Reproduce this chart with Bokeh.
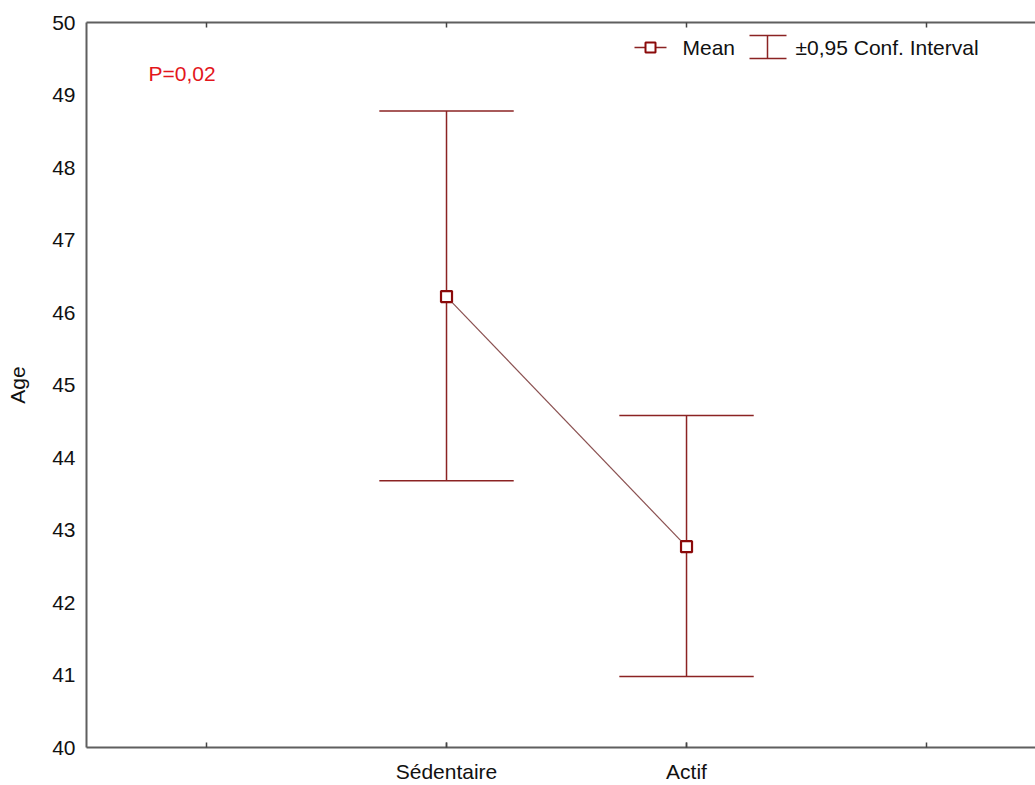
from bokeh.plotting import figure
from bokeh.models import (Range1d, FixedTicker, LinearAxis, Label, Arrow,
                          BoxAnnotation, ColumnDataSource)
from bokeh.embed import file_html
from bokeh.resources import INLINE

# ---- data ----
categories = ["Sédentaire", "Actif"]
means = [46.22, 42.77]
ci_lower = [43.68, 40.98]
ci_upper = [48.78, 44.58]
x_tick_positions = [0, 1, 2, 3]
y_ticks = [40, 41, 42, 43, 44, 45, 46, 47, 48, 49, 50]
p_value_text = "P=0,02"

xs = [i + 1 for i in range(len(categories))]
cap_half = 0.28
src = ColumnDataSource(dict(
    x=xs, mean=means, lo=ci_lower, hi=ci_upper,
    cx0=[x - cap_half for x in xs], cx1=[x + cap_half for x in xs],
))

FONT = "Liberation Sans"
AX = "#5f5f5f"
RED = "#8b2323"

p = figure(width=1035, height=785, output_backend="svg", toolbar_location=None,
           x_range=Range1d(-0.5, 3.454), y_range=Range1d(40, 50),
           min_border_left=86, min_border_right=0, min_border_top=22,
           min_border_bottom=38, x_axis_location="below")
p.outline_line_color = None
p.xgrid.visible = False
p.ygrid.visible = False
p.background_fill_color = "white"
p.border_fill_color = "white"

# axes
xa = p.xaxis[0]
xa.ticker = FixedTicker(ticks=xs, minor_ticks=x_tick_positions)
xa.major_label_overrides = {x: c for x, c in zip(xs, categories)}
xa.major_tick_in = 5
xa.major_tick_out = 0
xa.minor_tick_in = 5
xa.minor_tick_out = 0
xa.major_label_standoff = 12
ya = p.yaxis[0]
ya.ticker = FixedTicker(ticks=y_ticks)
ya.major_tick_in = 0
ya.major_tick_out = 0
ya.minor_tick_in = 0
ya.minor_tick_out = 0
ya.major_label_standoff = 11
ya.axis_label = "Age"
ya.axis_label_standoff = 20
for ax in (xa, ya):
    ax.axis_line_color = AX
    ax.axis_line_width = 2
    ax.major_tick_line_color = "#444444"
    ax.major_tick_line_width = 1.5
    ax.minor_tick_line_color = "#444444"
    ax.minor_tick_line_width = 1.5
    ax.major_label_text_font = FONT
    ax.major_label_text_font_size = "21px"
    ax.major_label_text_color = "#111111"
    ax.axis_label_text_font = FONT
    ax.axis_label_text_font_size = "21px"
    ax.axis_label_text_font_style = "normal"
    ax.axis_label_text_color = "#111111"

top = LinearAxis(ticker=FixedTicker(ticks=[], minor_ticks=x_tick_positions),
                 major_tick_in=0, major_tick_out=0,
                 minor_tick_in=5, minor_tick_out=0,
                 axis_line_color=AX, axis_line_width=2,
                 minor_tick_line_color="#444444", minor_tick_line_width=1.5,
                 major_label_standoff=0)
p.add_layout(top, "above")

# CI bars
p.segment(x0="x", y0="lo", x1="x", y1="hi", source=src, line_color=RED, line_width=1.5)
p.segment(x0="cx0", y0="hi", x1="cx1", y1="hi", source=src, line_color=RED, line_width=1.5)
p.segment(x0="cx0", y0="lo", x1="cx1", y1="lo", source=src, line_color=RED, line_width=1.5)
# mean line + markers
p.line(x="x", y="mean", source=src, line_color="#8a5050", line_width=1.2)
p.scatter(x="x", y="mean", source=src, marker="square", size=11,
          fill_color="white", line_color="#8b0a0a", line_width=2.2)

# P value
p.add_layout(Label(x=62, y=674, x_units="screen", y_units="screen",
                   text=p_value_text, text_color="#e3161c", text_font=FONT,
                   text_font_size="21px", text_baseline="middle"))

# legend (manual, screen units relative to frame)
def sx(v):
    return v - 86

def sy(v):
    return 747 - v

ly = 47
p.add_layout(Arrow(end=None, x_start=sx(634), y_start=sy(ly), x_end=sx(666), y_end=sy(ly),
                   start_units="screen", end_units="screen", line_color=RED, line_width=1.5))
p.add_layout(BoxAnnotation(left=sx(645), right=sx(655), top=sy(ly - 5), bottom=sy(ly + 5),
                           left_units="screen", right_units="screen",
                           top_units="screen", bottom_units="screen",
                           fill_color="white", fill_alpha=1.0,
                           line_color="#8b0a0a", line_alpha=1.0, line_width=2))
p.add_layout(Label(x=sx(682), y=sy(ly), x_units="screen", y_units="screen",
                   text="Mean", text_font=FONT, text_font_size="21px",
                   text_color="#111111", text_baseline="middle"))
# CI icon
p.add_layout(Arrow(end=None, x_start=sx(767), y_start=sy(35), x_end=sx(767), y_end=sy(58),
                   start_units="screen", end_units="screen", line_color=RED, line_width=1.5))
p.add_layout(Arrow(end=None, x_start=sx(749), y_start=sy(35), x_end=sx(786), y_end=sy(35),
                   start_units="screen", end_units="screen", line_color=RED, line_width=1.5))
p.add_layout(Arrow(end=None, x_start=sx(749), y_start=sy(58), x_end=sx(786), y_end=sy(58),
                   start_units="screen", end_units="screen", line_color=RED, line_width=1.5))
p.add_layout(Label(x=sx(795), y=sy(ly), x_units="screen", y_units="screen",
                   text="±0,95 Conf. Interval", text_font=FONT, text_font_size="21px",
                   text_color="#111111", text_baseline="middle"))

open("out.html", "w").write(file_html(p, INLINE))
